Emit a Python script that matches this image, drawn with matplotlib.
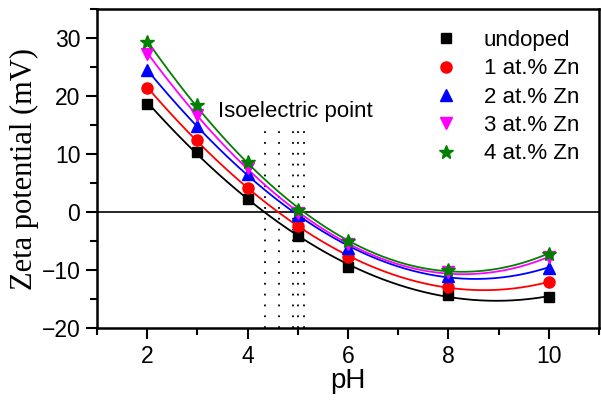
import numpy as np
import matplotlib.pyplot as plt
from matplotlib.ticker import MultipleLocator

# measured zeta potential vs pH for the Zn-doped series
ph = [2, 3, 4, 5, 6, 8, 10]
zeta_undoped = [18.7, 10.4, 2.2, -4.1, -9.4, -14.3, -14.6]
zeta_zn1 = [21.4, 12.4, 4.1, -2.4, -7.7, -12.9, -12.1]
zeta_zn2 = [24.4, 14.8, 6.5, -0.5, -6.2, -11.0, -9.6]
zeta_zn3 = [27.3, 16.8, 7.6, -0.2, -5.6, -10.4, -7.8]
zeta_zn4 = [29.3, 18.4, 8.6, 0.4, -5.0, -10.0, -7.2]

labels = ['undoped', '1 at.% Zn', '2 at.% Zn', '3 at.% Zn', '4 at.% Zn']
# isoelectric points of each sample (pH)
iep = [4.35, 4.63, 4.90, 5.01, 5.12]

series = [zeta_undoped, zeta_zn1, zeta_zn2, zeta_zn3, zeta_zn4]
colors = ['black', 'red', 'blue', 'magenta', 'green']
markers = ['s', 'o', '^', 'v', '*']
sizes = [7, 8, 8.5, 8.5, 10]

plt.rcParams['font.family'] = ['Liberation Sans', 'DejaVu Sans']

fig = plt.figure(figsize=(6.01, 4.05), dpi=100)
ax = fig.add_axes([97 / 601, 1 - 328 / 405, 502 / 601, 319 / 405])

ph_fine = np.linspace(2, 10, 200)
for y, c, m, s, lab in zip(series, colors, markers, sizes, labels):
    coef = np.polyfit(ph, y, 3)
    ax.plot(ph_fine, np.polyval(coef, ph_fine), color=c, lw=1.3, zorder=2)
    ax.plot(ph, y, ls='none', marker=m, color=c, ms=s, label=lab, zorder=3)

ax.axhline(0, color='black', lw=1.2, zorder=1)
for x in iep:
    ax.plot([x, x], [-20, 15], color='black', lw=1.3, ls=(0, (1, 5)), zorder=1)

ax.text(4.96, 17.4, 'Isoelectric point', fontsize=16, ha='center', va='center')

ax.set_xlim(1, 11)
ax.set_ylim(-20, 35)
ax.xaxis.set_major_locator(MultipleLocator(2))
ax.xaxis.set_minor_locator(MultipleLocator(1))
ax.yaxis.set_major_locator(MultipleLocator(10))
ax.yaxis.set_minor_locator(MultipleLocator(5))
ax.tick_params(which='both', direction='out', width=1.5, labelsize=16.5)
ax.tick_params(which='major', length=8, pad=4)
ax.tick_params(which='minor', length=5)
for sp in ax.spines.values():
    sp.set_linewidth(1.8)

ax.set_xlabel('pH', fontsize=20, labelpad=0)
ax.set_ylabel('Zeta potential (mV)', fontsize=22, family='Liberation Serif', labelpad=2)

ax.legend(loc='upper left', frameon=False, fontsize=16, handlelength=1.0,
          handletextpad=1.2, labelspacing=0.33, borderpad=0, borderaxespad=0,
          bbox_to_anchor=(0.673, 0.934))

fig.savefig('out.png', dpi=100)
